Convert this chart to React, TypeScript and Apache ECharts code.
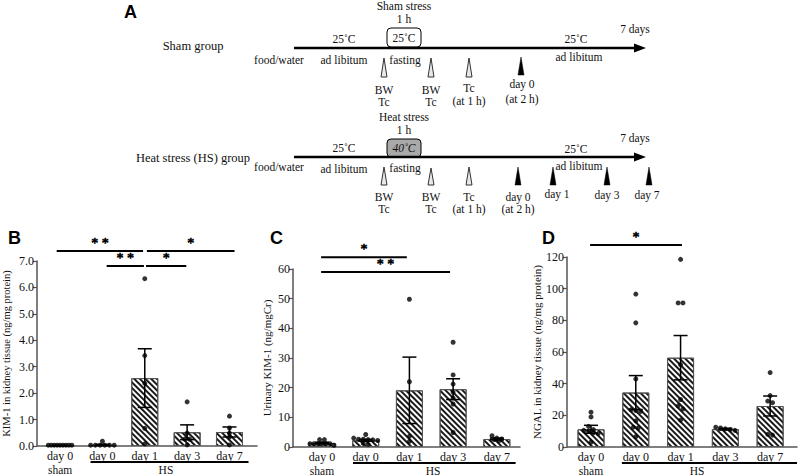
import React, { useEffect, useRef } from "react";
import * as echarts from "echarts";

// ---------- data ----------
const categories = ["day 0", "day 0", "day 1", "day 3", "day 7"];
const groupNames = ["sham", "HS"];

// Panel B: KIM-1 in kidney tissue
const kimTissueMean = [0.02, 0.04, 2.57, 0.52, 0.53];
const kimTissueSem = [0.01, 0.02, 1.11, 0.28, 0.19];
const kimTissuePoints = [
  [0.03, 0.03, 0.03, 0.03, 0.03, 0.03, 0.03, 0.03, 0.03],
  [0.18, 0.03, 0.03, 0.03, 0.03, 0.03, 0.03],
  [6.33, 3.42, 2.37, 0.67, 0.08],
  [1.67, 0.49, 0.26, 0.26, 0.04],
  [1.13, 0.68, 0.49, 0.34, 0.04],
];
const kimTissueSig = [
  { from: -0.08, to: 1.96, y: 7.38, label: "* *" },
  { from: 2.05, to: 4.12, y: 7.38, label: "*" },
  { from: 1.1, to: 1.98, y: 6.81, label: "* *" },
  { from: 2.03, to: 2.98, y: 6.81, label: "*" },
];

// Panel C: urinary KIM-1
const urinaryKimMean = [1.35, 2.25, 19.1, 19.5, 2.7];
const urinaryKimSem = [0.25, 0.3, 11.2, 3.5, 0.3];
const urinaryKimPoints = [
  [2.5, 2.5, 1.1, 1.1, 1.1, 1.1, 1.1, 1.1, 0.6],
  [4.2, 3.0, 2.6, 2.6, 2.5, 2.4, 2.2, 1.2, 0.9],
  [49.8, 22.0, 3.6, 1.9],
  [35.3, 24.3, 21.2, 18.5, 16.5, 14.5, 4.9],
  [3.8, 3.0, 2.7, 2.5, 2.2],
];
const urinaryKimSig = [
  { from: -0.02, to: 1.94, y: 64.0, label: "*" },
  { from: -0.02, to: 2.93, y: 59.0, label: "* *" },
];

// Panel D: NGAL in kidney tissue
const ngalMean = [11.2, 34.4, 56.4, 11.3, 25.9];
const ngalSem = [2.5, 10.7, 14.0, 0.5, 6.3];
const ngalPoints = [
  [22, 19, 13, 11, 10.5, 10, 9, 8.5, 3],
  [96.6, 78.4, 43, 23.5, 23, 22.5, 16.5, 12.5, 12, 6.5],
  [118.5, 91, 91, 52, 30, 26, 24, 17],
  [12.5, 12, 11.5, 11, 10.5],
  [47, 32.5, 29, 28, 8, 7.5],
];
const ngalSig = [{ from: -0.02, to: 2.03, y: 127.6, label: "*" }];

// ---------- styling helpers ----------
const SERIF = "'Liberation Serif', 'Times New Roman', serif";
const SANS = "'Liberation Sans', Arial, sans-serif";

type Sig = { from: number; to: number; y: number; label: string };
type Panel = {
  mean: number[];
  sem: number[];
  points: number[][];
  sig: Sig[];
  yMax: number;
  yInterval: number;
  yDecimals: number;
  yName: string;
  nameGap: number;
  nameSize: number;
  xMin: number;
  xMax: number;
  grid: { left: number; top: number; width: number; height: number };
  hs: [number, number, number];
};

const panels: Panel[] = [
  {
    mean: kimTissueMean, sem: kimTissueSem, points: kimTissuePoints, sig: kimTissueSig,
    yMax: 7, yInterval: 1, yDecimals: 1, yName: "KIM-1 in kidney tissue (ng/mg protein)",
    nameGap: 25, nameSize: 10.5,
    xMin: -0.545, xMax: 4.65,
    grid: { left: 33, top: 261, width: 224, height: 185 },
    hs: [0.72, 4.45, 2.5],
  },
  {
    mean: urinaryKimMean, sem: urinaryKimSem, points: urinaryKimPoints, sig: urinaryKimSig,
    yMax: 60, yInterval: 10, yDecimals: 0, yName: "Urinary KIM-1 (ng/mgCr)",
    nameGap: 21, nameSize: 11,
    xMin: -0.663, xMax: 4.53,
    grid: { left: 293, top: 269, width: 227, height: 178 },
    hs: [0.71, 4.43, 2.54],
  },
  {
    mean: ngalMean, sem: ngalSem, points: ngalPoints, sig: ngalSig,
    yMax: 120, yInterval: 20, yDecimals: 0, yName: "NGAL in kidney tissue (ng/mg protein)",
    nameGap: 24, nameSize: 11,
    xMin: -0.536, xMax: 4.6,
    grid: { left: 567, top: 257, width: 230, height: 190 },
    hs: [0.69, 4.6, 2.37],
  },
];

// simple centred-row beeswarm (layout only)
function swarm(vals: number[], pxPerUnit: number, pxPerCat: number): number[] {
  const idx = vals.map((v, i) => i).sort((a, b) => vals[b] - vals[a]);
  const offs = new Array(vals.length).fill(0);
  const rows: number[][] = [];
  for (const i of idx) {
    const last = rows[rows.length - 1];
    if (last && Math.abs(vals[last[0]] - vals[i]) * pxPerUnit < 3.5) last.push(i);
    else rows.push([i]);
  }
  for (const r of rows) {
    const n = r.length;
    const step = n > 1 ? Math.min(4.8, 24 / (n - 1)) : 0;
    r.forEach((i, k) => {
      offs[i] = ((k - (n - 1) / 2) * step) / pxPerCat;
    });
  }
  return offs;
}

function txt(x: number, y: number, text: string, size = 11.5, extra: any = {}) {
  return {
    type: "text",
    x,
    y,
    silent: true,
    style: {
      text,
      font: `${size}px ${SERIF}`,
      fill: "#111",
      textAlign: "center",
      textVerticalAlign: "middle",
      align: "center",
      verticalAlign: "middle",
      ...extra,
    },
  };
}
function tri(x: number, y1: number, y2: number, filled: boolean) {
  return {
    type: "polygon",
    silent: true,
    shape: { points: [[x, y1], [x - 3, y2], [x + 3, y2]] },
    style: filled ? { fill: "#000", stroke: "#000", lineWidth: 0.5 } : { fill: "#e8e8e8", stroke: "#333", lineWidth: 1 },
  };
}
function timeline(y: number) {
  return [
    { type: "line", silent: true, shape: { x1: 294, y1: y, x2: 636, y2: y }, style: { stroke: "#000", lineWidth: 2.6 } },
    { type: "polygon", silent: true, shape: { points: [[646, y], [634, y - 4.5], [634, y + 4.5]] }, style: { fill: "#000" } },
  ];
}
function letter(x: number, y: number, t: string) {
  return txt(x, y, t, 18, { font: `bold 18px ${SANS}`, textAlign: "left", align: "left", fill: "#000" });
}

function buildGraphic() {
  const g: any[] = [];
  g.push(letter(124, 12, "A"), letter(8, 238, "B"), letter(270, 238, "C"), letter(542, 238, "D"));

  // Sham row
  const ys = 48;
  g.push(txt(193, 46, "Sham group", 12.5));
  g.push(txt(404, 6, "Sham stress"));
  g.push(txt(404, 19, "1 h"));
  g.push({ type: "rect", silent: true, shape: { x: 387, y: 28, width: 34, height: 19, r: 4 }, style: { fill: "#fff", stroke: "#000", lineWidth: 1 } });
  g.push(txt(404, 38, "25˚C"));
  g.push(txt(344, 39, "25˚C"));
  g.push(txt(576, 39, "25˚C"));
  g.push(txt(635, 29, "7 days"));
  g.push(...timeline(ys));
  g.push(txt(279, 60, "food/water"));
  g.push(txt(344, 60, "ad libitum"));
  g.push(txt(405, 60, "fasting"));
  g.push(txt(579, 57, "ad libitum"));
  g.push(tri(384, 58, 77, false), tri(431, 58, 77, false), tri(469, 58, 77, false), tri(521, 57, 75, true));
  g.push(txt(384, 90, "BW"), txt(384, 102, "Tc"), txt(431, 90, "BW"), txt(431, 102, "Tc"));
  g.push(txt(469, 88, "Tc"), txt(469, 101, "(at 1 h)"), txt(522, 84, "day 0"), txt(522, 99, "(at 2 h)"));
  g.push(txt(404, 117, "Heat stress"));

  // Heat stress row
  const yh = 157;
  g.push(txt(404, 130, "1 h"));
  g.push({ type: "rect", silent: true, shape: { x: 387, y: 139, width: 34, height: 18, r: 4 }, style: { fill: "#a9a9a9", stroke: "#000", lineWidth: 1 } });
  g.push(txt(404, 148, "40˚C", 11.5, { font: `italic 11.5px ${SERIF}` }));
  g.push(txt(344, 148, "25˚C"));
  g.push(txt(576, 149, "25˚C"));
  g.push(txt(635, 138, "7 days"));
  g.push(...timeline(yh));
  g.push(txt(193, 158, "Heat stress (HS) group", 12.5));
  g.push(txt(279, 167, "food/water"));
  g.push(txt(344, 169, "ad libitum"));
  g.push(txt(405, 168, "fasting"));
  g.push(txt(579, 166, "ad libitum"));
  g.push(tri(384, 167, 185, false), tri(431, 168, 185, false), tri(469, 167, 185, false));
  g.push(tri(518, 167, 185, true), tri(553, 167, 185, true), tri(607, 167, 185, true), tri(649, 167, 185, true));
  g.push(txt(384, 197, "BW"), txt(384, 209, "Tc"), txt(431, 197, "BW"), txt(431, 209, "Tc"));
  g.push(txt(469, 197, "Tc"), txt(469, 209, "(at 1 h)"), txt(518, 197, "day 0"), txt(518, 209, "(at 2 h)"));
  g.push(txt(557, 194, "day 1"), txt(607, 195, "day 3"), txt(647, 195, "day 7"));
  return g;
}

function buildOption() {
  const grids: any[] = [];
  const xAxes: any[] = [];
  const yAxes: any[] = [];
  const series: any[] = [];

  panels.forEach((p, i) => {
    grids.push({ ...p.grid, containLabel: false });
    const axisLine = { show: true, onZero: false, lineStyle: { color: "#555", width: 1.5 } };
    xAxes.push({
      type: "value",
      gridIndex: i,
      min: p.xMin,
      max: p.xMax,
      axisLine,
      axisTick: { show: false },
      splitLine: { show: false },
      axisLabel: {
        customValues: [0, 1, 2, 3, 4],
        formatter: (v: number) => categories[Math.round(v)] ?? "",
        fontFamily: SERIF,
        fontSize: 12,
        color: "#111",
        margin: 4,
      },
    });
    yAxes.push({
      type: "value",
      gridIndex: i,
      min: 0,
      max: p.yMax,
      interval: p.yInterval,
      name: p.yName,
      nameLocation: "middle",
      nameGap: p.nameGap,
      nameTextStyle: { fontFamily: SERIF, fontSize: p.nameSize, color: "#111" },
      axisLine,
      axisTick: { show: true, length: 4, lineStyle: { color: "#555", width: 1.2 } },
      splitLine: { show: false },
      axisLabel: {
        formatter: (v: number) => v.toFixed(p.yDecimals),
        fontFamily: SERIF,
        fontSize: 12,
        color: "#111",
        margin: 3,
      },
    });

    const pxPerUnit = p.grid.height / p.yMax;
    const pxPerCat = p.grid.width / (p.xMax - p.xMin);

    series.push({
      type: "bar",
      xAxisIndex: i,
      yAxisIndex: i,
      barWidth: 27,
      z: 2,
      data: p.mean.map((m, k) => [k, m]),
      itemStyle: {
        color: "#fff",
        borderColor: "#555",
        borderWidth: 1,
        decal: {
          symbol: "rect",
          symbolSize: 1,
          color: "#1a1a1a",
          dashArrayX: [1, 0],
          dashArrayY: [1.3, 1.9],
          rotation: Math.PI / 4,
        },
      },
    });

    series.push({
      type: "custom",
      xAxisIndex: i,
      yAxisIndex: i,
      z: 3,
      itemStyle: { color: "#000" },
      data: p.mean.map((m, k) => [k, m, p.sem[k]]),
      renderItem: (params: any, api: any) => {
        const x = api.value(0), m = api.value(1), e = api.value(2);
        const a = api.coord([x, m + e]);
        const b = api.coord([x, m - e]);
        const hw = 7;
        const st = { stroke: "#000", lineWidth: 1.5 };
        return {
          type: "group",
          children: [
            { type: "line", shape: { x1: a[0], y1: a[1], x2: b[0], y2: b[1] }, style: st },
            { type: "line", shape: { x1: a[0] - hw, y1: a[1], x2: a[0] + hw, y2: a[1] }, style: st },
            { type: "line", shape: { x1: b[0] - hw, y1: b[1], x2: b[0] + hw, y2: b[1] }, style: st },
          ],
        };
      },
    });

    const scatterData: number[][] = [];
    p.points.forEach((vals, k) => {
      const offs = swarm(vals, pxPerUnit, pxPerCat);
      vals.forEach((v, j) => scatterData.push([k + offs[j], v]));
    });
    series.push({
      type: "scatter",
      xAxisIndex: i,
      yAxisIndex: i,
      z: 4,
      symbol: "circle",
      symbolSize: 5,
      itemStyle: { color: "#000" },
      data: scatterData,
    });

    const sig = p.sig;
    series.push({
      type: "custom",
      xAxisIndex: i,
      yAxisIndex: i,
      z: 5,
      clip: false,
      itemStyle: { color: "#000" },
      data: sig.map((s) => [s.from, s.y, s.to]),
      renderItem: (params: any, api: any) => {
        const a = api.coord([api.value(0), api.value(1)]);
        const b = api.coord([api.value(2), api.value(1)]);
        const label = sig[params.dataIndex].label;
        return {
          type: "group",
          children: [
            { type: "line", shape: { x1: a[0], y1: a[1], x2: b[0], y2: b[1] }, style: { stroke: "#000", lineWidth: 2 } },
            {
              type: "text",
              style: {
                text: label,
                x: (a[0] + b[0]) / 2,
                y: a[1] - 0.5,
                font: `14px ${SERIF}`,
                fill: "#000",
                stroke: "#000",
                lineWidth: 0.6,
                align: "center",
                verticalAlign: "bottom",
              },
            },
          ],
        };
      },
    });

    const hs = p.hs;
    series.push({
      type: "custom",
      xAxisIndex: i,
      yAxisIndex: i,
      z: 5,
      clip: false,
      itemStyle: { color: "#000" },
      data: [[hs[0], 0, hs[1], hs[2]]],
      renderItem: (params: any, api: any) => {
        const a = api.coord([api.value(0), 0]);
        const b = api.coord([api.value(2), 0]);
        const c = api.coord([api.value(3), 0]);
        const s = api.coord([0, 0]);
        const ts = { font: `11.5px ${SERIF}`, fill: "#111", align: "center", verticalAlign: "middle" };
        return {
          type: "group",
          children: [
            { type: "line", shape: { x1: a[0], y1: a[1] + 16, x2: b[0], y2: b[1] + 16 }, style: { stroke: "#000", lineWidth: 2 } },
            { type: "text", style: { ...ts, text: groupNames[0], x: s[0], y: s[1] + 23.5 } },
            { type: "text", style: { ...ts, text: groupNames[1], x: c[0], y: c[1] + 23.5 } },
          ],
        };
      },
    });
  });

  return {
    animation: false,
    backgroundColor: "#fff",
    grid: grids,
    xAxis: xAxes,
    yAxis: yAxes,
    series,
    graphic: buildGraphic(),
  };
}

export default function App() {
  const ref = useRef<HTMLDivElement>(null);
  useEffect(() => {
    if (!ref.current) return;
    const chart = echarts.init(ref.current, null, { renderer: "svg" });
    chart.setOption(buildOption() as any);
    return () => chart.dispose();
  }, []);
  return (
    <div
      ref={ref}
      style={{ position: "fixed", left: 0, top: 0, width: 800, height: 476, background: "#fff" }}
    />
  );
}
